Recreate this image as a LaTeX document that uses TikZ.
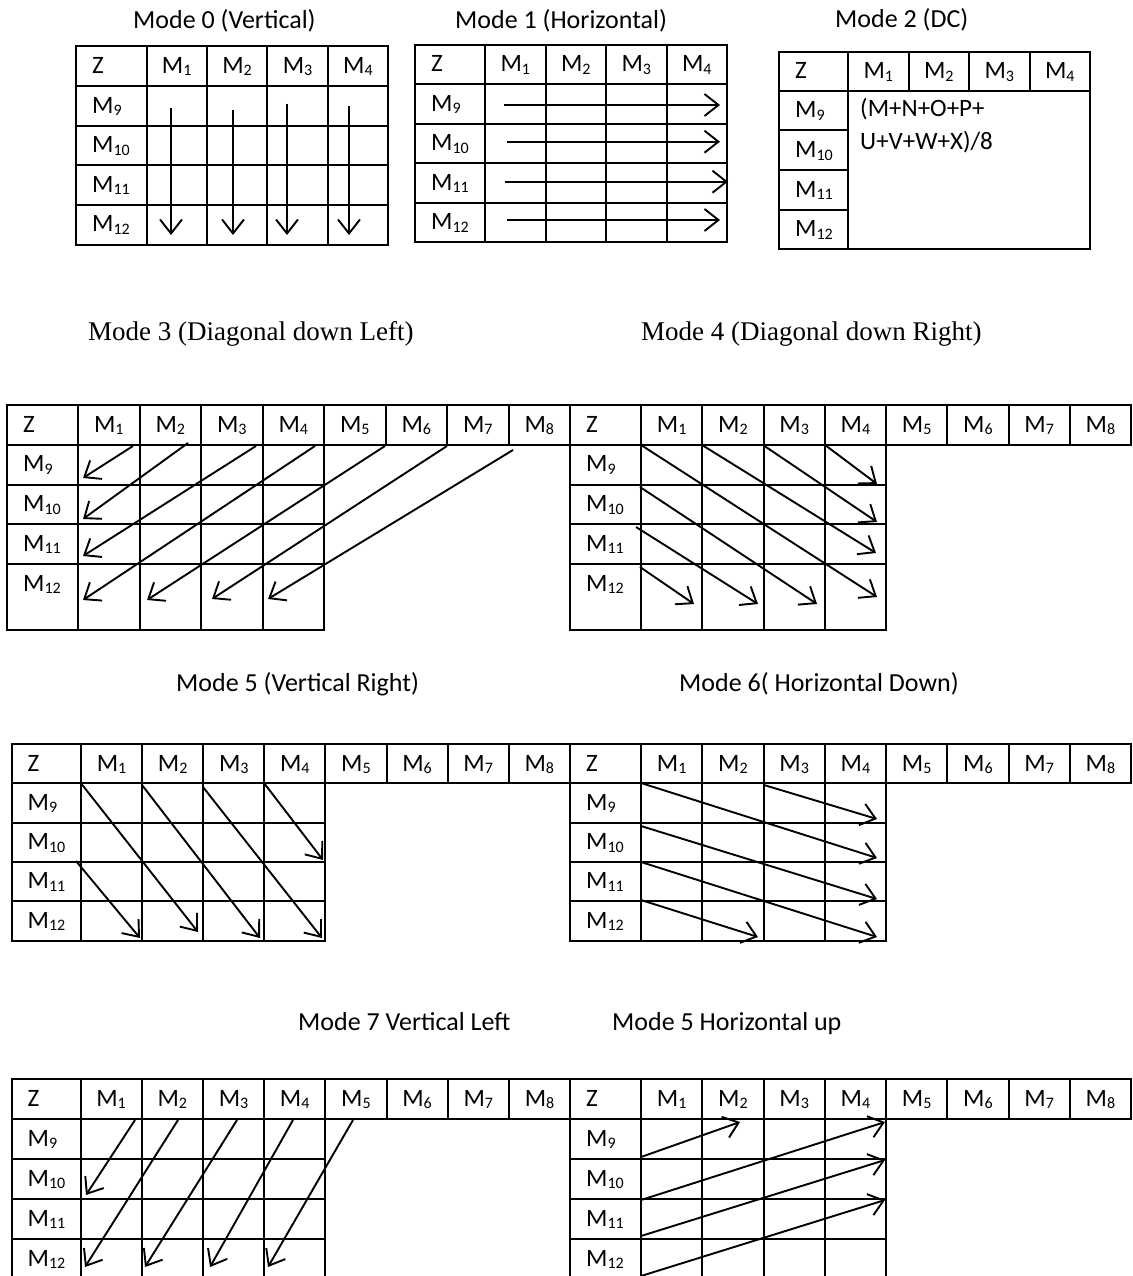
\documentclass[tikz,border=0pt]{standalone}
\usepackage{fontspec}
\setmainfont{Carlito}
\newfontfamily\tnr{Liberation Serif}
\usetikzlibrary{arrows.meta}
\newcommand\sbs[1]{\raisebox{-2.5pt}{\fontsize{16}{16}\selectfont #1}}
\newcommand\Mx[1]{M\sbs{#1}}
\tikzset{
  grid/.style={line width=2pt, line cap=rect},
  arr/.style={line width=1.9pt, -{Straight Barb[length=14pt,width=22pt]}},
  lab/.style={inner sep=0pt, font=\fontsize{25}{30}\selectfont},
  ttl/.style={inner sep=0pt, anchor=base west, font=\fontsize{26}{30}\selectfont},
  ttlt/.style={inner sep=0pt, anchor=base west, font=\tnr\fontsize{27}{30}\selectfont}
}
% small 4x4 table: #1 prefix, #2 x0, #3 y0, #4 Z width, #5 col width, #6 row height
\newcommand\smalltab[6]{%
  \foreach \r in {0,...,5} {\draw[grid] (#2,{#3+\r*#6}) -- ({#2+#4+4*#5},{#3+\r*#6});}
  \draw[grid] (#2,#3) -- (#2,{#3+5*#6});
  \foreach \c in {0,...,4} {\draw[grid] ({#2+#4+\c*#5},#3) -- ({#2+#4+\c*#5},{#3+5*#6});}
  \node[lab,anchor=base west] (#1z) at ({#2+16},{#3+27}) {Z};
  \foreach \i in {1,...,4} {\node[lab,anchor=base] (#1h\i) at ({#2+#4+(\i-0.5)*#5},{#3+27}) {\Mx{\i}};}
  \foreach \i/\k in {9/1,10/2,11/3,12/4} {\node[lab,anchor=base west] (#1r\i) at ({#2+16},{#3+\k*#6+27}) {\Mx{\i}};}
}
% wide table: #7 last row height
\newcommand\widetab[7]{%
  \draw[grid] (#2,#3) -- ({#2+#4+8*#5},#3);
  \draw[grid] (#2,{#3+#6}) -- ({#2+#4+8*#5},{#3+#6});
  \foreach \c in {0,...,8} {\draw[grid] ({#2+#4+\c*#5},#3) -- ({#2+#4+\c*#5},{#3+#6});}
  \draw[grid] (#2,#3) -- (#2,{#3+4*#6+#7});
  \foreach \c in {0,...,4} {\draw[grid] ({#2+#4+\c*#5},{#3+#6}) -- ({#2+#4+\c*#5},{#3+4*#6+#7});}
  \foreach \r in {2,3,4} {\draw[grid] (#2,{#3+\r*#6}) -- ({#2+#4+4*#5},{#3+\r*#6});}
  \draw[grid] (#2,{#3+4*#6+#7}) -- ({#2+#4+4*#5},{#3+4*#6+#7});
  \node[lab,anchor=base west] (#1z) at ({#2+16},{#3+27}) {Z};
  \foreach \i in {1,...,8} {\node[lab,anchor=base] (#1h\i) at ({#2+#4+(\i-0.5)*#5},{#3+27}) {\Mx{\i}};}
  \foreach \i/\k in {9/1,10/2,11/3,12/4} {\node[lab,anchor=base west] (#1r\i) at ({#2+16},{#3+\k*#6+27}) {\Mx{\i}};}
}
\newcommand\arw[5]{\coordinate (#1s) at (#2,#3); \coordinate (#1e) at (#4,#5); \draw[arr] (#1s) -- (#1e);}
\begin{document}
\begin{tikzpicture}[x=1pt,y=-1pt]
\useasboundingbox (0,0) rectangle (1132,1276);
\fill[white] (0,0) rectangle (1132,1276);
\clip (0,0) rectangle (1132,1276);

% titles
\node[ttl] (t0) at (133,29) {Mode 0 (Vertical)};
\node[ttl] (t1) at (455,29) {Mode 1 (Horizontal)};
\node[ttl] (t2) at (835,28) {Mode 2 (DC)};
\node[ttlt] (t3) at (88,340) {Mode 3 (Diagonal down Left)};
\node[ttlt] (t4) at (641,340) {Mode 4 (Diagonal down Right)};
\node[ttl] (t5) at (176,691) {Mode 5 (Vertical Right)};
\node[ttl] (t6) at (679,691) {Mode 6( Horizontal Down)};
\node[ttl] (t7) at (298,1030) {Mode 7 Vertical Left};
\node[ttl] (t8) at (612,1030) {Mode 5 Horizontal up};

% Mode 0 and Mode 1
\smalltab{ma}{76}{46.5}{70.5}{60.4}{39.6}
\smalltab{mb}{415}{45}{70}{60.5}{39.4}

% Mode 2 (DC)
\draw[grid] (779,51.7) rectangle (1090,249);
\draw[grid] (779,91) -- (1090,91);
\foreach \c in {0,...,3} {\draw[grid] ({848+\c*60.5},51.7) -- ({848+\c*60.5},91);}
\draw[grid] (848,91) -- (848,249);
\foreach \r in {1,2,3} {\draw[grid] (779,{91+\r*39.5}) -- (848,{91+\r*39.5});}
\node[lab,anchor=base west] (mcz) at (795,79) {Z};
\foreach \i in {1,...,4} {\node[lab,anchor=base] (mch\i) at ({848+(\i-0.5)*60.5},79) {\Mx{\i}};}
\foreach \i/\k in {9/0,10/1,11/2,12/3} {\node[lab,anchor=base west] (mcr\i) at (795,{91+\k*39.5+27}) {\Mx{\i}};}
\node[lab,anchor=base west] (dc1) at (860,117) {(M+N+O+P+};
\node[lab,anchor=base west] (dc2) at (860,150) {U+V+W+X)/8};

% wide tables
\widetab{m3}{7}{405}{71}{61.5}{39.8}{65.8}
\widetab{m4}{570}{405}{71}{61.25}{39.8}{65.8}
\widetab{m5}{11.5}{744}{69.5}{61.1}{39.3}{39.3}
\widetab{m6}{570}{744}{71}{61.25}{39.3}{39.3}
\widetab{m7}{11.5}{1079}{69}{61.2}{40}{40}
\widetab{m8}{570}{1079}{71}{61.25}{40}{40}

% Mode 0 arrows
\arw{v1}{171}{108}{171}{235}
\arw{v2}{233}{110}{233}{235}
\arw{v3}{287}{104}{287}{235}
\arw{v4}{349}{106}{349}{235}
% Mode 1 arrows
\arw{h1}{504}{105}{720}{105}
\arw{h2}{507}{141.7}{720}{141.7}
\arw{h3}{505}{181.7}{728}{181.7}
\arw{h4}{507}{220}{720}{220}
% Mode 3
\arw{a1}{133}{446}{83}{478}
\arw{a2}{188}{443}{83}{519}
\arw{a3}{256}{446}{83}{556}
\arw{a4}{315}{446}{83}{600}
\arw{a5}{385}{446}{147}{600}
\arw{a6}{447}{446}{212}{599}
\arw{a7}{513}{450}{268}{599}
% Mode 4
\arw{b1}{825}{445}{877}{484}
\arw{b2}{763}{445}{877}{522}
\arw{b3}{702}{445}{876}{553}
\arw{b4}{641}{445}{877}{597}
\arw{b5}{640}{487}{817}{604}
\arw{b6}{636}{527}{758}{604}
\arw{b7}{640}{567}{694}{604}
% Mode 5
\arw{c1}{80}{782}{198}{932}
\arw{c2}{142}{785}{260}{938}
\arw{c3}{203}{787}{322}{938}
\arw{c4}{264}{783}{323}{860}
\arw{c5}{76}{861}{140}{938}
% Mode 6
\arw{d1}{641}{783}{877}{858}
\arw{d2}{764}{785}{877}{819}
\arw{d3}{641}{826}{877}{899}
\arw{d4}{641}{862}{877}{937}
\arw{d5}{641}{900}{758}{937}
% Mode 7
\arw{e1}{135}{1120}{86}{1195}
\arw{e2}{178}{1120}{85}{1267}
\arw{e3}{237}{1120}{145}{1267}
\arw{e4}{293}{1120}{210}{1267}
\arw{e5}{353}{1120}{268}{1267}
% Mode 8
\arw{f1}{641}{1157}{740}{1122}
\arw{f2}{641}{1200}{885}{1122}
\arw{f3}{641}{1236}{885}{1160}
\arw{f4}{641}{1276}{885}{1200}
\end{tikzpicture}
\end{document}
